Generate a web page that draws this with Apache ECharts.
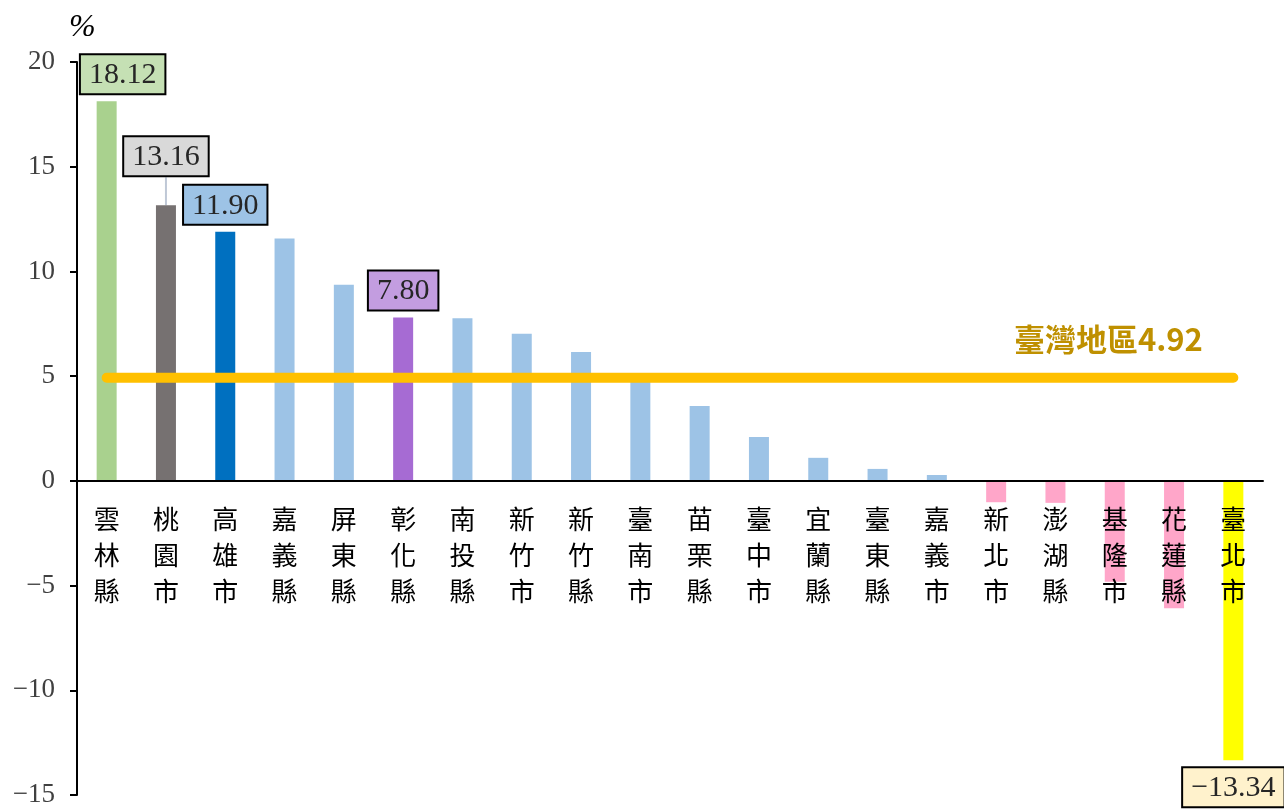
<!DOCTYPE html>
<html><head><meta charset="utf-8">
<script src="https://cdn.jsdelivr.net/npm/echarts@6/dist/echarts.min.js"></script>
<style>html,body{margin:0;padding:0;background:#fff}#c{width:1284px;height:810px}</style>
</head><body><div id="c"></div>
<script>
const categories = ['雲林縣','桃園市','高雄市','嘉義縣','屏東縣','彰化縣','南投縣','新竹市','新竹縣','臺南市','苗栗縣','臺中市','宜蘭縣','臺東縣','嘉義市','新北市','澎湖縣','基隆市','花蓮縣','臺北市'];
const values = [18.12,13.16,11.90,11.57,9.36,7.80,7.76,7.02,6.15,4.85,3.58,2.10,1.10,0.57,0.28,-1.02,-1.05,-4.82,-6.08,-13.34];
const taiwanAvg = 4.92;
const avgLabel = '臺灣地區';
const yMin = -15, yMax = 20, yStep = 5;

const colors = {
  '雲林縣':'#A9D18E','桃園市':'#767171','高雄市':'#0070C0','彰化縣':'#A66BD3','臺北市':'#FFFF00'
};
const labelBg = {'雲林縣':'#C5E0B4','桃園市':'#D9D9D9','高雄市':'#9DC3E6','彰化縣':'#C39DE0','臺北市':'#FFF2CC'};
const labelMove = {'雲林縣':{dx:16},'桃園市':{dy:-22}};
const leaderCat = '桃園市';

const numFont = '"Liberation Serif", "DejaVu Serif", serif';
const cjkFont = '"Noto Sans CJK TC", "Noto Sans", sans-serif';

const W = 1284, H = 810;
const grid = {left:77,right:21,top:62,bottom:15};
const gridH = H - grid.top - grid.bottom;
const zeroOffset = -(0 - yMin)/(yMax - yMin)*gridH;

const barData = values.map((v,i)=>{
  const c = categories[i];
  const col = colors[c] || (v < 0 ? '#FFA6C9' : '#9DC3E6');
  const item = {value:v, itemStyle:{color:col}};
  if (labelBg[c]) {
    item.label = {
      show:true,
      position: v<0 ? 'bottom' : 'top',
      distance: 8,
      formatter: v.toFixed(2).replace('-','\u2212'),
      fontFamily: numFont, fontSize: 30, color:'#262626',
      backgroundColor: labelBg[c], borderColor:'#000', borderWidth:2,
      padding:[5,8,3,8]
    };
    if (c === leaderCat) {
      item.labelLine = {show:true, lineStyle:{color:'#BFC8D6', width:2}};
    }
  }
  return item;
});

const lineData = categories.map((c,i)=>{
  const d = {value: taiwanAvg};
  if (i === categories.length-1) {
    d.label = {show:true, position:'top', offset:[-125,-18],
      formatter: avgLabel + taiwanAvg.toFixed(2),
      fontFamily: cjkFont, fontSize: 31, fontWeight:'bold', color:'#BF9000'};
  }
  return d;
});

const chart = echarts.init(document.getElementById('c'));
chart.setOption({
  animation:false,
  grid:Object.assign({containLabel:false, outerBoundsMode:'none'}, grid),
  xAxis:{type:'category',data:categories,position:'bottom',offset:zeroOffset,z:5,
    axisLine:{onZero:false,lineStyle:{color:'#000',width:2}},
    axisTick:{show:false},
    axisLabel:{interval:0,margin:20,fontFamily:cjkFont,fontSize:26,lineHeight:36,color:'#000',
      formatter:s=>s.split('').join('\n'),verticalAlign:'top'}
  },
  yAxis:{type:'value',min:yMin,max:yMax,interval:yStep,
    name:'%',nameLocation:'end',nameGap:18,
    nameTextStyle:{fontFamily:numFont,fontSize:32,fontStyle:'italic',color:'#000',align:'left',padding:[0,0,0,-8]},
    axisLine:{show:true,lineStyle:{color:'#000',width:2}},
    axisTick:{show:true,length:7,lineStyle:{color:'#000',width:2}},
    splitLine:{show:false},
    axisLabel:{fontFamily:numFont,fontSize:27,color:'#404040',margin:22,
      formatter:v=>String(v).replace('-','\u2212')}
  },
  series:[
    {type:'bar',data:barData,barWidth:20,z:2,
      labelLayout:p=>labelMove[categories[p.dataIndex]]||{},
      labelLine:{show:false}},
    {type:'line',data:lineData,symbol:'circle',symbolSize:1,itemStyle:{color:'rgba(0,0,0,0)'},
      lineStyle:{color:'#FFC000',width:10,cap:'round'},z:3,silent:true}
  ]
});
</script></body></html>
